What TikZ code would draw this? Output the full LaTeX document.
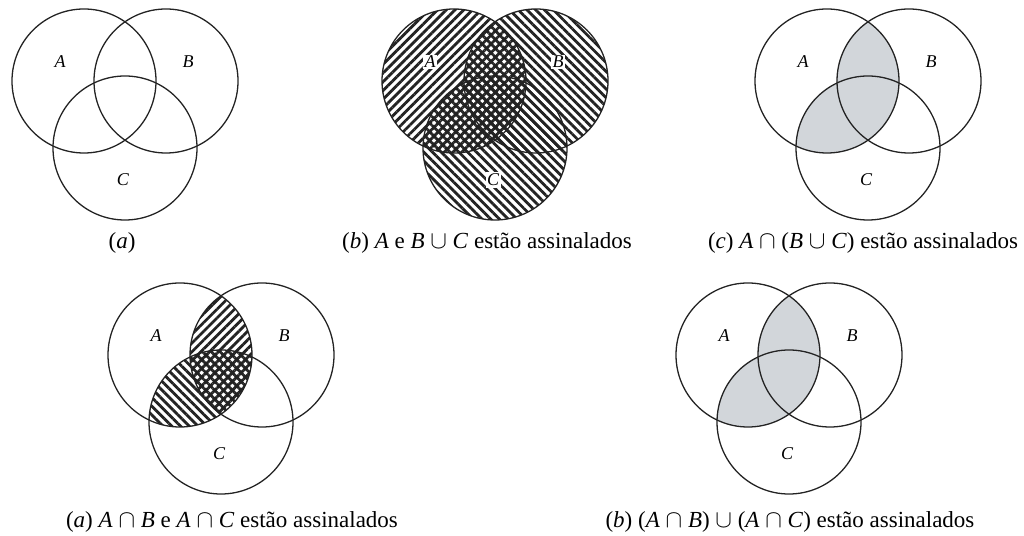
\documentclass[tikz,border=0pt]{standalone}
\usepackage{fontspec}
\setmainfont{Liberation Serif}
\usetikzlibrary{patterns.meta}
\definecolor{shade}{RGB}{210,214,218}
\definecolor{ink}{RGB}{35,35,35}
\newcommand\opcap{\ $\cap$\ }
\newcommand\opcup{\ $\cup$\ }
\tikzset{
  circ/.style={draw=ink, line width=1.3pt},
  lbl/.style={font=\fontsize{18}{20}\selectfont\itshape, inner sep=1.5pt},
  lblw/.style={lbl, fill=white},
  captext/.style={font=\fontsize{23}{25}\selectfont, anchor=base},
  nelines/.style={pattern={Lines[angle=45,distance=6.2pt,line width=2.8pt]}, pattern color=ink},
  nwlines/.style={pattern={Lines[angle=-45,distance=6.2pt,line width=2.8pt]}, pattern color=ink},
  grayfill/.style={fill=shade},
}
\newcommand\vcoords[1]{%
  \coordinate (#1A) at (-41,0);
  \coordinate (#1B) at (41,0);
  \coordinate (#1C) at (0,-67);}
\newcommand\vcircles[1]{%
  \draw[circ] (#1A) circle[radius=72];
  \draw[circ] (#1B) circle[radius=72];
  \draw[circ] (#1C) circle[radius=72];}
\newcommand\vlabels[2]{%
  \node[#2] (#1lA) at (-65,19) {A};
  \node[#2] (#1lB) at (63,19) {B};
  \node[#2] (#1lC) at (-2,-99) {C};}
\begin{document}
\begin{tikzpicture}[x=1pt,y=1pt]
\useasboundingbox (0,0) rectangle (1024,535);

% (a)
\begin{scope}[shift={(125,454)}]
  \vcoords{a}
  \vcircles{a}
  \vlabels{a}{lbl}
\end{scope}
\node[captext] (capa) at (122,286) {(\textit{a})};

% (b)
\begin{scope}[shift={(495,454)}]
  \vcoords{b}
  \path[nelines] (bA) circle[radius=72];
  \path[nwlines] (bB) circle[radius=72];
  \path[nwlines] (bC) circle[radius=72];
  \vcircles{b}
  \vlabels{b}{lblw}
\end{scope}
\node[captext] (capb) at (487,286) {(\textit{b}) \textit{A} e \textit{B}\opcup\textit{C} estão assinalados};

% (c)
\begin{scope}[shift={(868,454)}]
  \vcoords{c}
  \begin{scope}
    \clip (cA) circle[radius=72];
    \fill[grayfill] (cB) circle[radius=72];
    \fill[grayfill] (cC) circle[radius=72];
  \end{scope}
  \vcircles{c}
  \vlabels{c}{lbl}
\end{scope}
\node[captext] (capc) at (863,286) {(\textit{c}) \textit{A}\opcap(\textit{B}\opcup\textit{C}) estão assinalados};

% (d)
\begin{scope}[shift={(221,180)}]
  \vcoords{d}
  \begin{scope}
    \clip (dA) circle[radius=72];
    \path[nelines] (dB) circle[radius=72];
    \path[nwlines] (dC) circle[radius=72];
  \end{scope}
  \vcircles{d}
  \vlabels{d}{lbl}
\end{scope}
\node[captext] (capd) at (232,8) {(\textit{a}) \textit{A}\opcap\textit{B} e \textit{A}\opcap\textit{C} estão assinalados};

% (e)
\begin{scope}[shift={(789,180)}]
  \vcoords{e}
  \begin{scope}
    \clip (eA) circle[radius=72];
    \fill[grayfill] (eB) circle[radius=72];
    \fill[grayfill] (eC) circle[radius=72];
  \end{scope}
  \vcircles{e}
  \vlabels{e}{lbl}
\end{scope}
\node[captext] (cape) at (790,8) {(\textit{b}) (\textit{A}\opcap\textit{B})\opcup(\textit{A}\opcap\textit{C}) estão assinalados};
\end{tikzpicture}
\end{document}
